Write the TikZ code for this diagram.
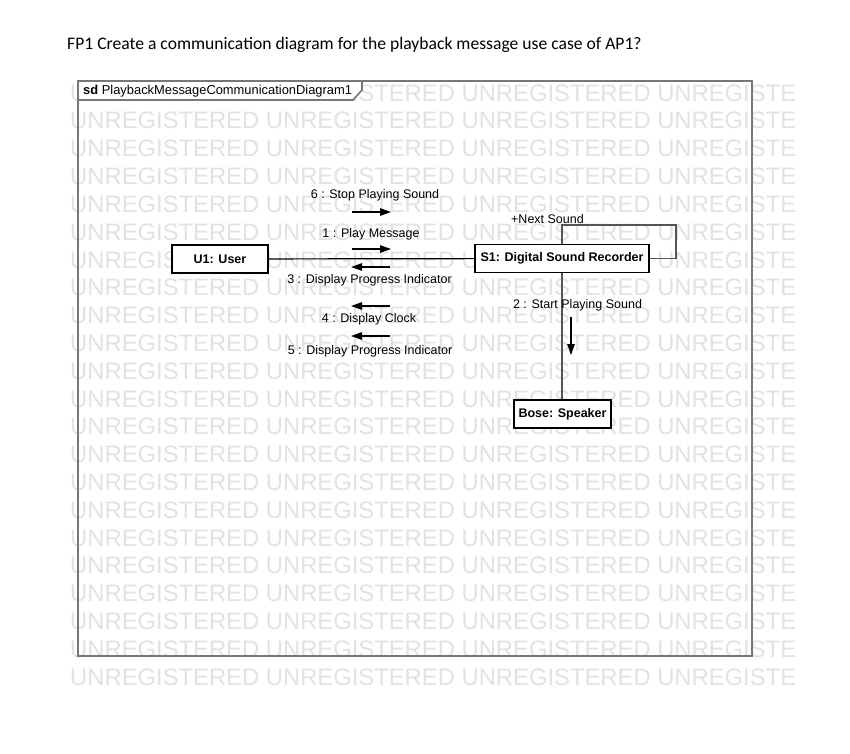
\documentclass[tikz,border=0pt]{standalone}
\usepackage{fontspec}
\setmainfont{Liberation Sans}
\newfontfamily\titlefont{Carlito}
\usetikzlibrary{arrows.meta}
\definecolor{framegray}{HTML}{777777}
\definecolor{linkgray}{HTML}{555555}
\definecolor{wmgray}{HTML}{E2E2E2}
\tikzset{
  wm/.style={anchor=west, inner sep=0pt, text=wmgray, font=\fontsize{23.8}{23.8}\selectfont},
  obj/.style={draw=black, line width=1.1pt, fill=white, inner sep=0pt, minimum height=28pt, font=\fontsize{12.5}{14}\selectfont\bfseries},
  lbl/.style={inner sep=0pt, font=\fontsize{12.5}{14}\selectfont},
  msg/.style={draw=black, line width=1.2pt, -{Triangle[length=11pt,width=7.5pt]}},
  link/.style={draw=black, line width=1.2pt},
  glink/.style={draw=linkgray, line width=1.1pt},
  framec/.style={draw=framegray, line width=1.6pt}
}
\begin{document}
\begin{tikzpicture}[x=1pt,y=-1pt]
\useasboundingbox (0,0) rectangle (850,753);
\fill[white] (0,0) rectangle (850,753);
% title
\node[anchor=west, inner sep=0pt, font=\titlefont\fontsize{17.6}{19}\selectfont] (title) at (67,45) {FP1 Create a communication diagram for the playback message use case of AP1?};
% watermark
\foreach \k in {0,...,21}{
  \node[wm] (wm\k) at (70,{93+27.8*\k}) {UNREGISTERED UNREGISTERED UNREGISTERED UNREGISTE};
}
% frame
\draw[framec] (78,81) rectangle (752,656);
\draw[framec, fill=white] (78,81) -- (362,81) -- (362,90) -- (353,100) -- (78,100) -- cycle;
\node[anchor=west, inner sep=0pt, font=\fontsize{12.9}{14}\selectfont] (tab) at (83,91) {\textbf{sd} PlaybackMessageCommunicationDiagram1};
% objects
\node[obj, minimum width=96pt] (u1) at (220,259) {U1: User};
\node[obj, minimum width=174pt] (s1) at (562,258.5) {S1: Digital Sound Recorder};
\node[obj, minimum width=97pt] (bose) at (562.5,414) {Bose: Speaker};
% links
\draw[link] (u1) -- (s1);
\coordinate (lp) at (676,225);
\draw[glink] (s1.north) |- (lp) |- (s1.east);
\draw[glink] (s1.south) -- (s1.south |- bose.north);
% self-loop label
\node[lbl] (next) at (547.5,219) {+Next Sound};
% message 2
\node[lbl] (m2) at (577.5,305) {2 : Start Playing Sound};
\coordinate (a2s) at (571,317);
\coordinate (a2e) at (571,355);
\draw[msg] (a2s) -- (a2e);
% messages between U1 and S1
\node[lbl] (m6) at (375,195) {6 : Stop Playing Sound};
\coordinate (a6s) at (352,212);
\coordinate (a6e) at (391,212);
\draw[msg] (a6s) -- (a6e);
\node[lbl] (m1) at (371,234) {1 : Play Message};
\coordinate (a1s) at (352,249);
\coordinate (a1e) at (391,249);
\draw[msg] (a1s) -- (a1e);
\coordinate (a3s) at (390,267);
\coordinate (a3e) at (351,267);
\draw[msg] (a3s) -- (a3e);
\node[lbl] (m3) at (369.5,280.5) {3 : Display Progress Indicator};
\coordinate (a4s) at (390,306);
\coordinate (a4e) at (351,306);
\draw[msg] (a4s) -- (a4e);
\node[lbl] (m4) at (369,319) {4 : Display Clock};
\coordinate (a5s) at (390,336);
\coordinate (a5e) at (351,336);
\draw[msg] (a5s) -- (a5e);
\node[lbl] (m5) at (370,351) {5 : Display Progress Indicator};
\end{tikzpicture}
\end{document}
